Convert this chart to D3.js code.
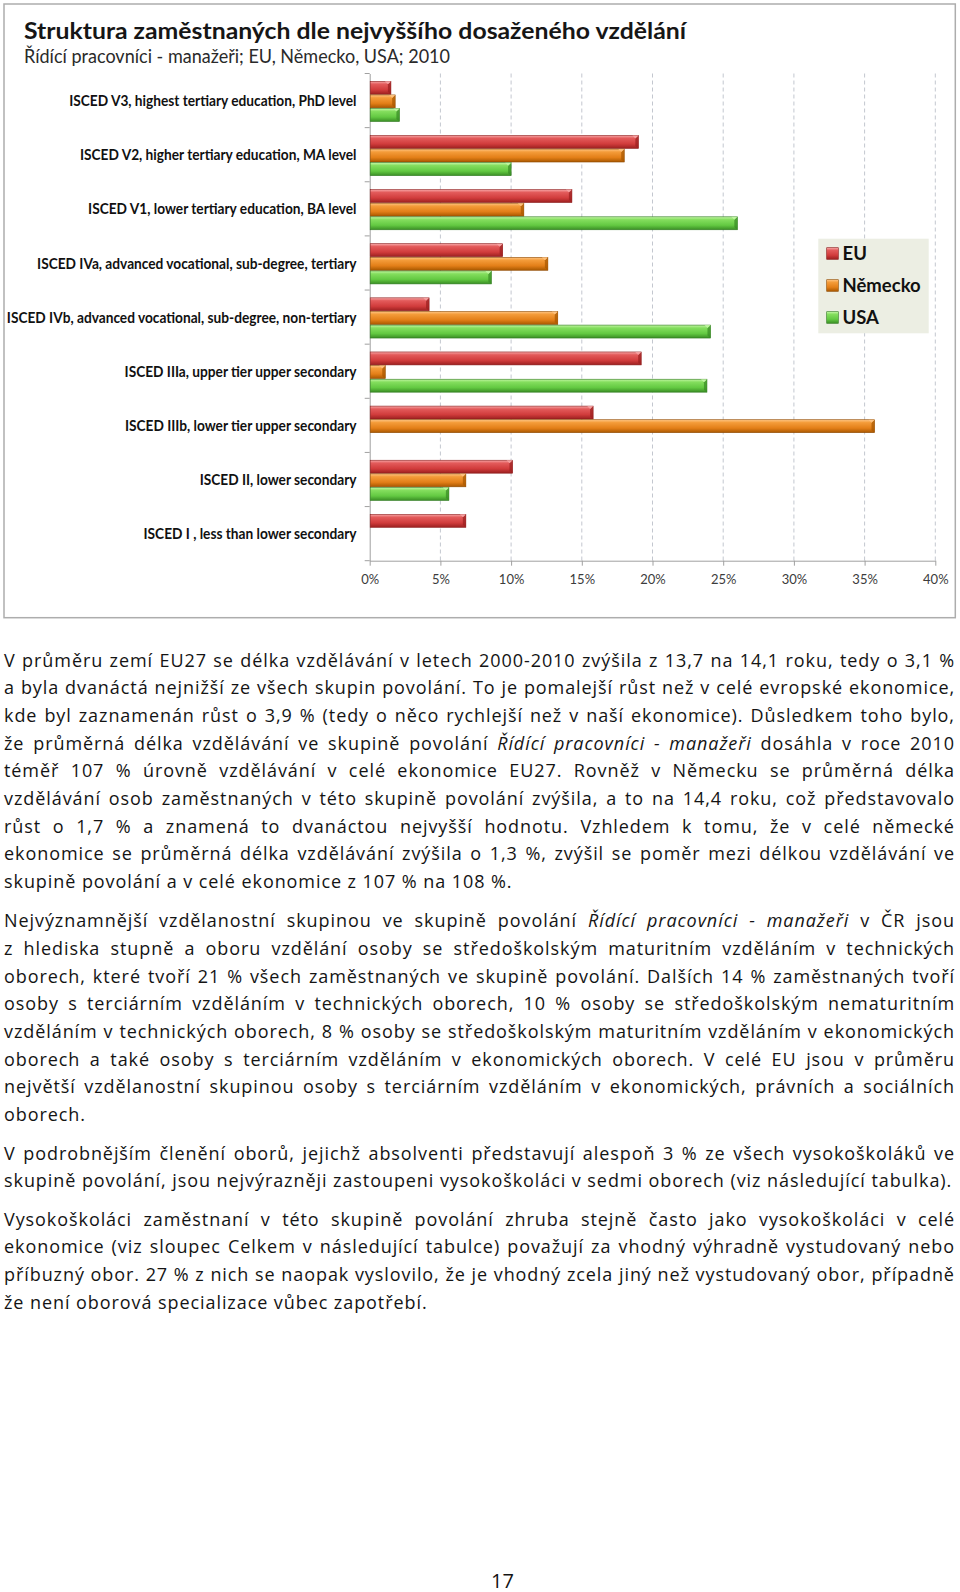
<!DOCTYPE html>
<html><head><meta charset="utf-8">
<script src="https://cdn.jsdelivr.net/npm/d3@7"></script>
<style>
html,body{margin:0;padding:0;background:#fff;}
#wrap{position:relative;width:960px;height:1592px;overflow:hidden;}
svg{display:block;position:absolute;left:0;top:0;}
.para{position:absolute;left:4px;width:951px;font-family:'Open Sans','Noto Sans',sans-serif;
  font-size:18px;line-height:27.7px;color:#141414;}
.line{text-align:justify;text-align-last:justify;}
.line.last{text-align:left;text-align-last:left;white-space:nowrap;}
#probe{position:absolute;left:-3000px;top:0;white-space:nowrap;font-family:'Open Sans','Noto Sans',sans-serif;font-size:18px;}
</style>
</head><body>
<div id="wrap">
<svg id="c" width="960" height="1592"></svg>
</div>
<script>
// ---------------- DATA ----------------
const categories = [
  "ISCED V3, highest tertiary education, PhD level",
  "ISCED V2, higher tertiary education, MA level",
  "ISCED V1, lower tertiary education, BA level",
  "ISCED IVa, advanced vocational, sub-degree, tertiary",
  "ISCED IVb, advanced vocational, sub-degree, non-tertiary",
  "ISCED IIIa, upper tier upper secondary",
  "ISCED IIIb, lower tier upper secondary",
  "ISCED II, lower secondary",
  "ISCED I , less than lower secondary"
];
const seriesNames = ["EU", "Německo", "USA"];
const euValues      = [1.5, 19.0, 14.3, 9.4, 4.2, 19.2, 15.8, 10.1, 6.8];
const nemeckoValues = [1.8, 18.0, 10.9, 12.6, 13.3, 1.1, 35.7, 6.8, 0];
const usaValues     = [2.1, 10.0, 26.0, 8.6, 24.1, 23.85, 0, 5.6, 0];
const xTickValues = [0, 5, 10, 15, 20, 25, 30, 35, 40];
const xTickLabels = ["0%", "5%", "10%", "15%", "20%", "25%", "30%", "35%", "40%"];
const chartTitle = "Struktura zaměstnaných dle nejvyššího dosaženého vzdělání";
const chartSubtitle = "Řídící pracovníci - manažeři; EU, Německo, USA; 2010";

// body text (words wrapped in * are italic)
const para1 = [
  "V průměru zemí EU27 se délka vzdělávání v letech 2000-2010 zvýšila z 13,7 na 14,1 roku, tedy o 3,1 %",
  "a byla dvanáctá nejnižší ze všech skupin povolání. To je pomalejší růst než v celé evropské ekonomice,",
  "kde byl zaznamenán růst o 3,9 % (tedy o něco rychlejší než v naší ekonomice). Důsledkem toho bylo,",
  "že průměrná délka vzdělávání ve skupině povolání *Řídící* *pracovníci* *-* *manažeři* dosáhla v roce 2010",
  "téměř 107 % úrovně vzdělávání v celé ekonomice EU27. Rovněž v Německu se průměrná délka",
  "vzdělávání osob zaměstnaných v této skupině povolání zvýšila, a to na 14,4 roku, což představovalo",
  "růst o 1,7 % a znamená to dvanáctou nejvyšší hodnotu. Vzhledem k tomu, že v celé německé",
  "ekonomice se průměrná délka vzdělávání zvýšila o 1,3 %, zvýšil se poměr mezi délkou vzdělávání ve",
  "skupině povolání a v celé ekonomice z 107 % na 108 %."
];
const para2 = [
  "Nejvýznamnější vzdělanostní skupinou ve skupině povolání *Řídící* *pracovníci* *-* *manažeři* v ČR jsou",
  "z hlediska stupně a oboru vzdělání osoby se středoškolským maturitním vzděláním v technických",
  "oborech, které tvoří 21 % všech zaměstnaných ve skupině povolání. Dalších 14 % zaměstnaných tvoří",
  "osoby s terciárním vzděláním v technických oborech, 10 % osoby se středoškolským nematuritním",
  "vzděláním v technických oborech, 8 % osoby se středoškolským maturitním vzděláním v ekonomických",
  "oborech a také osoby s terciárním vzděláním v ekonomických oborech. V celé EU jsou v průměru",
  "největší vzdělanostní skupinou osoby s terciárním vzděláním v ekonomických, právních a sociálních",
  "oborech."
];
const para3 = [
  "V podrobnějším členění oborů, jejichž absolventi představují alespoň 3 % ze všech vysokoškoláků ve",
  "skupině povolání, jsou nejvýrazněji zastoupeni vysokoškoláci v sedmi oborech (viz následující tabulka)."
];
const para4 = [
  "Vysokoškoláci zaměstnaní v této skupině povolání zhruba stejně často jako vysokoškoláci v celé",
  "ekonomice (viz sloupec Celkem v následující tabulce) považují za vhodný výhradně vystudovaný nebo",
  "příbuzný obor. 27 % z nich se naopak vyslovilo, že je vhodný zcela jiný než vystudovaný obor, případně",
  "že není oborová specializace vůbec zapotřebí."
];
const pageNumber = "17";

// ---------------- DRAW ----------------
const svg = d3.select("#c");
const defs = svg.append("defs");
const palettes = {
  "EU":      ["#F7A8A8", "#E35B5B", "#D13C3C", "#9C2020", "#8A1C1C"],
  "Německo": ["#FFC685", "#F49C3A", "#E37F18", "#A95800", "#8F4A00"],
  "USA":     ["#C4F7A6", "#84DE5E", "#63C942", "#3A8E25", "#2F7A1E"]
};
seriesNames.forEach((s, i) => {
  const p = palettes[s];
  const g = defs.append("linearGradient").attr("id", "g" + i)
    .attr("x1", 0).attr("y1", 0).attr("x2", 0).attr("y2", 1);
  g.append("stop").attr("offset", "0%").attr("stop-color", p[0]);
  g.append("stop").attr("offset", "22%").attr("stop-color", p[1]);
  g.append("stop").attr("offset", "65%").attr("stop-color", p[2]);
  g.append("stop").attr("offset", "100%").attr("stop-color", p[3]);
});

// chart frame
svg.append("rect").attr("x", 4).attr("y", 4).attr("width", 951.3).attr("height", 613.7)
  .attr("fill", "#fff").attr("stroke", "#ADADAD").attr("stroke-width", 1.5);

// title
svg.append("text").attr("x", 24).attr("y", 39)
  .attr("font-family", "Lato, 'Noto Sans', sans-serif").attr("font-weight", 700)
  .attr("font-size", 22.5).attr("fill", "#161616")
  .attr("textLength", 662).attr("lengthAdjust", "spacingAndGlyphs")
  .text(chartTitle);
svg.append("text").attr("x", 24).attr("y", 63.3)
  .attr("font-family", "Lato, 'Noto Sans', sans-serif").attr("font-weight", 400)
  .attr("font-size", 19.5).attr("fill", "#2a2a2a")
  .attr("textLength", 426).attr("lengthAdjust", "spacingAndGlyphs")
  .text(chartSubtitle);

const x = d3.scaleLinear().domain([0, 40]).range([369.7, 935.3]);
const y = d3.scaleBand().domain(categories).range([73.5, 560.7]).padding(0);
const ySub = d3.scaleBand().domain(seriesNames).range([7.8, 48]).paddingInner(0.05);

// gridlines
svg.append("g").selectAll("line").data(xTickValues.filter(v => v > 0)).join("line")
  .attr("x1", d => x(d)).attr("x2", d => x(d))
  .attr("y1", 73.5).attr("y2", 560.7)
  .attr("stroke", "#C3C7CF").attr("stroke-width", 1).attr("stroke-dasharray", "4,3");

// x axis
const xAxis = d3.axisBottom(x).tickValues(xTickValues)
  .tickFormat((d, i) => xTickLabels[i]).tickSize(5).tickSizeOuter(0);
const gx = svg.append("g").attr("transform", "translate(0,560.7)").call(xAxis);
gx.select(".domain").attr("stroke", "#A0A0A0");
gx.selectAll(".tick line").attr("stroke", "#A0A0A0");
gx.selectAll(".tick text").attr("font-family", "Lato, 'Noto Sans', sans-serif")
  .attr("font-size", 13).attr("fill", "#3c3c3c").attr("dy", null).attr("y", 23.6);

// y axis (line + ticks at band boundaries)
const yAxis = d3.axisLeft(y).tickSize(0).tickFormat("");
const gy = svg.append("g").attr("transform", "translate(369.7,0)").call(yAxis);
gy.select(".domain").attr("stroke", "#A0A0A0");
gy.selectAll(".tick").remove();
const boundaries = categories.map(c => y(c)).concat([y.range()[1]]);
gy.selectAll("line.b").data(boundaries).join("line").attr("class", "b")
  .attr("x1", -5).attr("x2", 0).attr("y1", d => d).attr("y2", d => d)
  .attr("stroke", "#A0A0A0");

// category labels (condensed bold, right-aligned against the axis)
const labelG = svg.append("g");
const labels = labelG.selectAll("text").data(categories).join("text")
  .attr("font-family", "Lato, 'Noto Sans', sans-serif").attr("font-weight", 700)
  .attr("font-size", 14.5).attr("fill", "#111").attr("text-anchor", "end")
  .attr("dominant-baseline", "central")
  .text(d => d);
(function fitLabels() {
  let maxW = 0;
  labels.each(function () { const w = this.getComputedTextLength(); if (w > maxW) maxW = w; });
  const kx = 350 / (maxW || 350);
  labels.attr("transform", d => `translate(356.5,${y(d) + y.bandwidth() / 2}) scale(${kx},1)`);
})();

// bars
const valuesBySeries = [euValues, nemeckoValues, usaValues];
const barData = [];
categories.forEach((c, ci) => {
  seriesNames.forEach((s, si) => {
    const v = valuesBySeries[si][ci];
    if (v > 0) barData.push({ c, s, si, v });
  });
});
const barG = svg.append("g");
const bars = barG.selectAll("g").data(barData).join("g");
bars.append("rect")
  .attr("x", x(0) + 0.5)
  .attr("y", d => y(d.c) + ySub(d.s))
  .attr("width", d => x(d.v) - x(0) - 0.5)
  .attr("height", ySub.bandwidth())
  .attr("fill", d => `url(#g${d.si})`)
  .attr("stroke", d => palettes[d.s][4]).attr("stroke-width", 0.6);
bars.append("path")
  .attr("d", d => {
    const x1 = x(d.v), y0 = y(d.c) + ySub(d.s), h = ySub.bandwidth();
    return `M${x1 - 3},${y0 + 3}L${x1},${y0}L${x1},${y0 + h}L${x1 - 3},${y0 + h - 2.5}Z`;
  })
  .attr("fill", d => palettes[d.s][3]).attr("opacity", 0.75);
bars.append("path")
  .attr("d", d => {
    const x1 = x(d.v), y0 = y(d.c) + ySub(d.s);
    return `M${x1 - 3},${y0 + 3}L${x1},${y0}L${x1 - 6},${y0}Z`;
  })
  .attr("fill", d => palettes[d.s][0]).attr("opacity", 0.8);

// legend
const lg = svg.append("g");
lg.append("rect").attr("x", 818.3).attr("y", 238.7).attr("width", 110.4).attr("height", 94.6)
  .attr("fill", "#ECEEE3");
const legendY = d3.scalePoint().domain(seriesNames).range([253.5, 317.5]);
const li = lg.selectAll("g").data(seriesNames).join("g")
  .attr("transform", d => `translate(0,${legendY(d)})`);
li.append("rect").attr("x", 826.7).attr("y", -5.8).attr("width", 11.6).attr("height", 11.6)
  .attr("fill", (d, i) => `url(#g${i})`).attr("stroke", d => palettes[d][4]).attr("stroke-width", 0.6);
li.append("text").attr("x", 842.5).attr("y", 6.5)
  .attr("font-family", "Lato, 'Noto Sans', sans-serif").attr("font-weight", 700)
  .attr("font-size", 18.5).attr("fill", "#111").text(d => d);

// page number
svg.append("text").attr("x", 502.5).attr("y", 1587.5).attr("text-anchor", "middle")
  .attr("font-family", "'Open Sans', 'Noto Sans', sans-serif").attr("font-size", 20)
  .attr("fill", "#141414").text(pageNumber);

// ---------------- BODY TEXT (HTML, natively justified) ----------------
const wrap = d3.select("#wrap");
// letter spacing so that the long unjustified line spans ~950px as in the source
const probe = d3.select("body").append("span").attr("id", "probe").text(para3[1]);
const natW = probe.node().getBoundingClientRect().width;
probe.remove();
let ls = (948 - natW) / para3[1].length;
if (!(ls > -0.5 && ls < 2)) ls = 0.8;

function parseWords(line) {
  return line.split(" ").filter(w => w.length).map(w => {
    const it = w.startsWith("*") && w.endsWith("*") && w.length > 1;
    return { t: it ? w.slice(1, -1) : w, it };
  });
}
function drawPara(lines, top) {
  const p = wrap.append("div").attr("class", "para").style("top", top + "px");
  lines.forEach((line, i) => {
    const ln = p.append("div").attr("class", "line" + (i === lines.length - 1 ? " last" : ""))
      .style("letter-spacing", ls + "px");
    const words = parseWords(line);
    words.forEach((w, wi) => {
      if (w.it) ln.append("i").text(w.t); else ln.append("span").text(w.t);
      if (wi < words.length - 1) ln.append("span").text(" ");
    });
    // if the line would wrap, tighten its letter spacing until it fits on one line
    let l = ls, guard = 0;
    while (ln.node().getBoundingClientRect().height > 30 && guard < 60) {
      l -= 0.05; guard++;
      ln.style("letter-spacing", l + "px");
    }
  });
}
drawPara(para1, 646.5);
drawPara(para2, 907.2);
drawPara(para3, 1139.7);
drawPara(para4, 1205.7);
</script>
</body></html>
